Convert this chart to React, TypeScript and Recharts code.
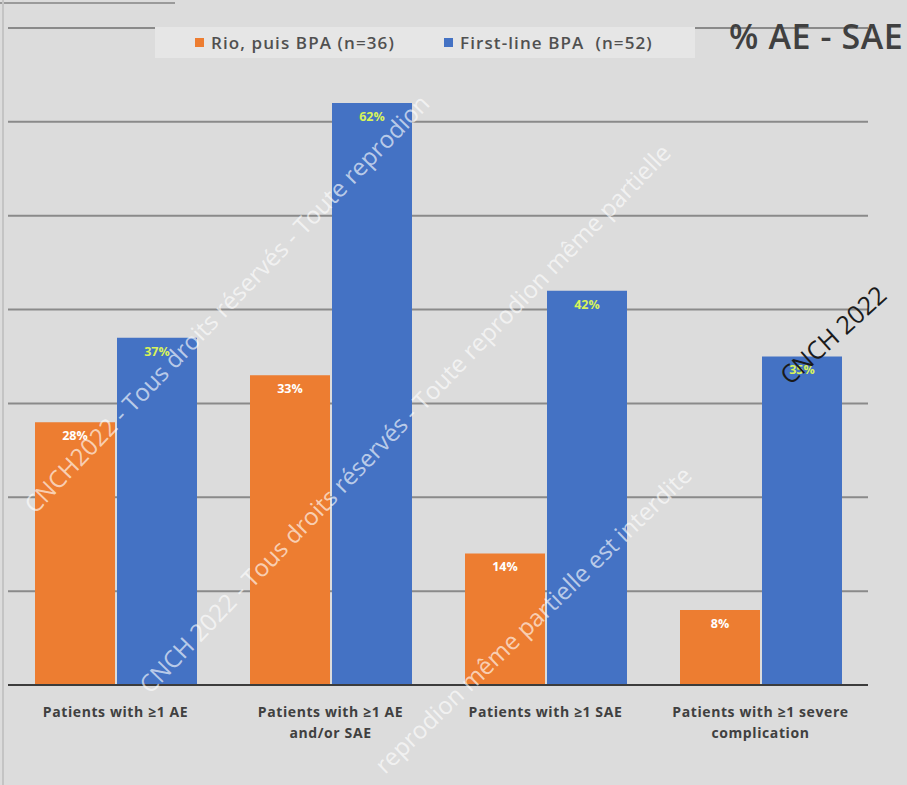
import React from 'react'
import {
  BarChart,
  Bar,
  XAxis,
  YAxis,
  CartesianGrid,
  LabelList,
} from 'recharts'

const categories = [
  'Patients with ≥1 AE|',
  'Patients with ≥1 AE|and/or SAE',
  'Patients with ≥1 SAE|',
  'Patients with ≥1 severe|complication',
]
const rioValues = [28, 33, 14, 8]
const firstLineValues = [37, 62, 42, 35]
const yTicks = [0, 10, 20, 30, 40, 50, 60, 70]

const seriesNames = ['Rio, puis BPA (n=36)', 'First-line BPA  (n=52)']
const ORANGE = '#ED7D31'
const BLUE = '#4472C4'
const FONT = '"Open Sans", Lato, sans-serif'

const data = categories.map((c, i) => ({
  name: c,
  rio: rioValues[i],
  first: firstLineValues[i],
}))

const pct = (v: any) => `${v}%`

function CategoryTick(props: any) {
  const { x, y, payload } = props
  const lines = String(payload.value).split('|').filter(Boolean)
  return (
    <text
      x={x}
      y={y}
      textAnchor="middle"
      fill="#404040"
      fontFamily={FONT}
      fontWeight="bold"
      fontSize={14}
      letterSpacing={0.6}
    >
      {lines.map((l: string, i: number) => (
        <tspan key={i} x={x} dy={i === 0 ? 24 : 21}>
          {l}
        </tspan>
      ))}
    </text>
  )
}

// legend drawn as a plain overlay so it doesn't eat into the plot area
function LegendBox() {
  const items = [
    { label: seriesNames[0], color: ORANGE, left: 40 },
    { label: seriesNames[1], color: BLUE, left: 289 },
  ]
  return (
    <div
      style={{
        position: 'absolute',
        left: 155,
        top: 27,
        width: 540,
        height: 31,
        background: '#e6e6e6',
        fontFamily: FONT,
        fontWeight: 600,
        fontSize: 17,
        letterSpacing: 1.1,
        color: '#505050',
      }}
    >
      {items.map((it, i) => (
        <div
          key={i}
          style={{
            position: 'absolute',
            left: it.left,
            top: 0,
            height: 31,
            display: 'flex',
            alignItems: 'center',
          }}
        >
          <span
            style={{ width: 9, height: 9, background: it.color, display: 'inline-block', marginRight: 7 }}
          />
          <span style={{ whiteSpace: 'pre' }}>{it.label}</span>
        </div>
      ))}
    </div>
  )
}

export default function App() {
  return (
    <div
      style={{
        position: 'absolute',
        left: 0,
        top: 0,
        width: 907,
        height: 785,
        background: '#dcdcdc',
        overflow: 'hidden',
      }}
    >
      <BarChart
        width={907}
        height={785}
        data={data}
        margin={{ top: 28, right: 39, bottom: 40, left: 8 }}
        barSize={80}
        barGap={2}
      >
        <CartesianGrid vertical={false} stroke="#8a8a8a" strokeWidth={2} />
        <YAxis hide domain={[0, 70]} ticks={yTicks} />
        <XAxis
          dataKey="name"
          height={60}
          axisLine={{ stroke: '#3c3c3c', strokeWidth: 2 }}
          tickLine={false}
          interval={0}
          tick={<CategoryTick />}
        />
        <Bar dataKey="rio" name={seriesNames[0]} fill={ORANGE} isAnimationActive={false}>
          <LabelList
            dataKey="rio"
            position="insideTop"
            offset={9}
            formatter={pct}
            fill="#ffffff"
            fontFamily={FONT}
            fontWeight="bold"
            fontSize={12.5}
          />
        </Bar>
        <Bar dataKey="first" name={seriesNames[1]} fill={BLUE} isAnimationActive={false}>
          <LabelList
            dataKey="first"
            position="insideTop"
            offset={9}
            formatter={pct}
            fill="#d8f35a"
            fontFamily={FONT}
            fontWeight="bold"
            fontSize={12.5}
          />
        </Bar>
      </BarChart>

      <LegendBox />

      <div
        style={{
          position: 'absolute',
          left: 729,
          top: 13,
          fontFamily: FONT,
          fontWeight: 600,
          fontSize: 34,
          letterSpacing: 0.6,
          color: '#404040',
          whiteSpace: 'nowrap',
        }}
      >
        % AE - SAE
      </div>

      {/* frame edges */}
      <div style={{ position: 'absolute', left: 0, top: 2, width: 175, height: 2, background: '#9a9a9a' }} />
      <div style={{ position: 'absolute', left: 2, top: 0, width: 2, height: 785, background: '#c4c4c4' }} />

      {/* watermark */}
      <svg
        width={907}
        height={785}
        style={{ position: 'absolute', left: 0, top: 0, pointerEvents: 'none' }}
      >
        <g fontFamily={FONT} fontSize={24} fill="#ffffff" fillOpacity={0.65}>
          <text x={35} y={515} transform="rotate(-46 35 515)">
            CNCH2022 - Tous droits réservés - Toute reprodion
          </text>
          <text x={150} y={695} transform="rotate(-46 150 695)">
            CNCH 2022 - Tous droits réservés - Toute reprodion même partielle
          </text>
          <text x={385} y={775} transform="rotate(-44 385 775)">
            reprodion même partielle est interdite
          </text>
        </g>
        <text
          x={790}
          y={386}
          transform="rotate(-42 790 386)"
          fontFamily={FONT}
          fontSize={25}
          fill="#1a1a1a"
        >
          CNCH 2022
        </text>
      </svg>
    </div>
  )
}
